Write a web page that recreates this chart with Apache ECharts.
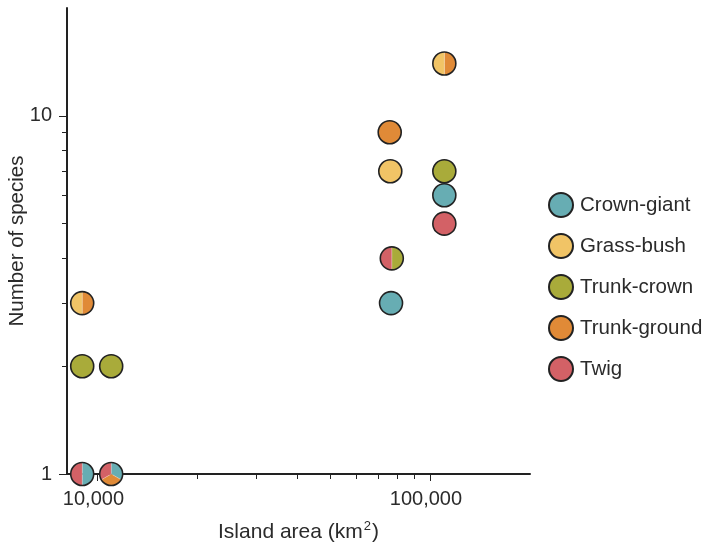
<!DOCTYPE html>
<html>
<head>
<meta charset="utf-8">
<script src="https://cdn.jsdelivr.net/npm/echarts@6/dist/echarts.min.js"></script>
<style>html,body{margin:0;padding:0;background:#fff;}#c{width:707px;height:543px;}</style>
</head>
<body>
<div id="c"></div>
<script>
// ---- data ----
const guilds = ['Crown-giant', 'Grass-bush', 'Trunk-crown', 'Trunk-ground', 'Twig'];
const guildColors = ['#67adb3', '#f1c466', '#a9ab3a', '#e08a37', '#d36166'];
// each point: island area, number of species, guilds sharing that value (clockwise from 12 o'clock)
const pointArea    = [9000, 9000, 9000, 11000, 11000, 75700, 76000, 76800, 76400, 110500, 110500, 110500, 110500];
const pointSpecies = [3, 2, 1, 2, 1, 9, 7, 4, 3, 14, 7, 6, 5];
const pointGuilds  = [
  ['Trunk-ground', 'Grass-bush'],
  ['Trunk-crown'],
  ['Crown-giant', 'Twig'],
  ['Trunk-crown'],
  ['Crown-giant', 'Trunk-ground', 'Twig'],
  ['Trunk-ground'],
  ['Grass-bush'],
  ['Trunk-crown', 'Twig'],
  ['Crown-giant'],
  ['Trunk-ground', 'Grass-bush'],
  ['Trunk-crown'],
  ['Crown-giant'],
  ['Twig']
];
const xMinorTicks = [10000, 20000, 30000, 40000, 50000, 60000, 70000, 80000, 90000, 100000];
const xMajorTicks = [10000, 100000];
const yMinorTicks = [2, 3, 4, 5, 6, 7, 8, 9];
const yMajorTicks = [1, 10];

// ---- chart ----
const FONT = '"Liberation Sans", Arial, Helvetica, sans-serif';
const TXT = '#2b2b2b';
const EDGE = '#222222';
const chart = echarts.init(document.getElementById('c'), null, {renderer: 'canvas'});

const singleSeries = guilds.map((g, gi) => ({
  name: g,
  type: 'scatter',
  xAxisIndex: 0, yAxisIndex: 0,
  symbol: 'circle',
  symbolSize: 23,
  z: g === 'Crown-giant' ? 4 : 3,
  itemStyle: {color: guildColors[gi], borderColor: EDGE, borderWidth: 1.6, opacity: 1},
  emphasis: {disabled: true},
  data: pointArea.map((a, i) => [a, pointSpecies[i], i])
    .filter(d => pointGuilds[d[2]].length === 1 && pointGuilds[d[2]][0] === g)
    .map(d => [d[0], d[1]])
}));

const mixedData = pointArea.map((a, i) => [a, pointSpecies[i], i])
  .filter(d => pointGuilds[d[2]].length > 1);

const mixedSeries = {
  type: 'custom',
  xAxisIndex: 0, yAxisIndex: 0,
  z: 3,
  silent: true,
  clip: false,
  data: mixedData,
  renderItem: function (params, api) {
    const p = api.coord([api.value(0), api.value(1)]);
    const gs = pointGuilds[api.value(2)];
    const n = gs.length;
    const r = 11.5;
    const children = gs.map((g, k) => {
      const s = -Math.PI / 2 + k * 2 * Math.PI / n;
      return {
        type: 'sector',
        shape: {cx: p[0], cy: p[1], r: r, r0: 0, startAngle: s, endAngle: s + 2 * Math.PI / n, clockwise: true},
        style: {fill: guildColors[guilds.indexOf(g)], stroke: 'rgba(255,255,255,0.35)', lineWidth: 0.6}
      };
    });
    children.push({
      type: 'circle',
      shape: {cx: p[0], cy: p[1], r: r},
      style: {fill: 'none', stroke: EDGE, lineWidth: 1.6}
    });
    return {type: 'group', children: children};
  }
};

const option = {
  backgroundColor: '#ffffff',
  animation: false,
  textStyle: {fontFamily: FONT},
  grid: {left: 67, top: 8, right: 177, bottom: 69, containLabel: false, outerBoundsMode: 'none'},
  legend: {
    orient: 'vertical',
    left: 548, top: 192, padding: 0,
    itemWidth: 24, itemHeight: 24, itemGap: 15,
    icon: 'circle',
    selectedMode: false,
    data: guilds,
    textStyle: {fontSize: 20.5, color: TXT, fontFamily: FONT, padding: [0, 0, 0, 2]}
  },
  xAxis: [
    {
      type: 'log', min: 8100, max: 200000, position: 'bottom',
      axisLine: {show: true, onZero: false, lineStyle: {color: EDGE, width: 2}},
      axisTick: {show: true, inside: false, length: 5, customValues: xMinorTicks, lineStyle: {color: EDGE, width: 1}},
      axisLabel: {show: false},
      splitLine: {show: false},
      name: '{a|Island area (km}{s|2}{a|)}',
      nameLocation: 'middle', nameGap: 46,
      nameTextStyle: {
        rich: {
          a: {fontSize: 21, color: TXT, fontFamily: FONT, lineHeight: 24},
          s: {fontSize: 13, color: TXT, fontFamily: FONT, lineHeight: 24, verticalAlign: 'top', padding: [0, 1, 10, 1]}
        }
      }
    },
    {
      type: 'log', min: 8100, max: 200000, position: 'bottom',
      axisLine: {show: false},
      axisTick: {show: true, inside: false, length: 7, customValues: xMajorTicks, lineStyle: {color: EDGE, width: 1}},
      axisLabel: {show: true, customValues: xMajorTicks, fontSize: 20, color: TXT, fontFamily: FONT, margin: 15,
        padding: [0, 8, 0, 0],
        formatter: v => Number(v).toLocaleString('en-US')},
      splitLine: {show: false}
    }
  ],
  yAxis: [
    {
      type: 'log', min: 1, max: 20, position: 'left',
      axisLine: {show: true, onZero: false, lineStyle: {color: EDGE, width: 2}},
      axisTick: {show: true, inside: false, length: 5, customValues: yMinorTicks, lineStyle: {color: EDGE, width: 1}},
      axisLabel: {show: false},
      splitLine: {show: false},
      name: 'Number of species',
      nameLocation: 'middle', nameGap: 39, nameRotate: 90,
      nameTextStyle: {fontSize: 20.5, color: TXT, fontFamily: FONT}
    },
    {
      type: 'log', min: 1, max: 20, position: 'left',
      axisLine: {show: false},
      axisTick: {show: true, inside: false, length: 8, customValues: yMajorTicks, lineStyle: {color: EDGE, width: 1}},
      axisLabel: {show: true, customValues: yMajorTicks, fontSize: 20, color: TXT, fontFamily: FONT, margin: 15},
      splitLine: {show: false}
    }
  ],
  series: singleSeries.concat([mixedSeries])
};
chart.setOption(option);
</script>
</body>
</html>
